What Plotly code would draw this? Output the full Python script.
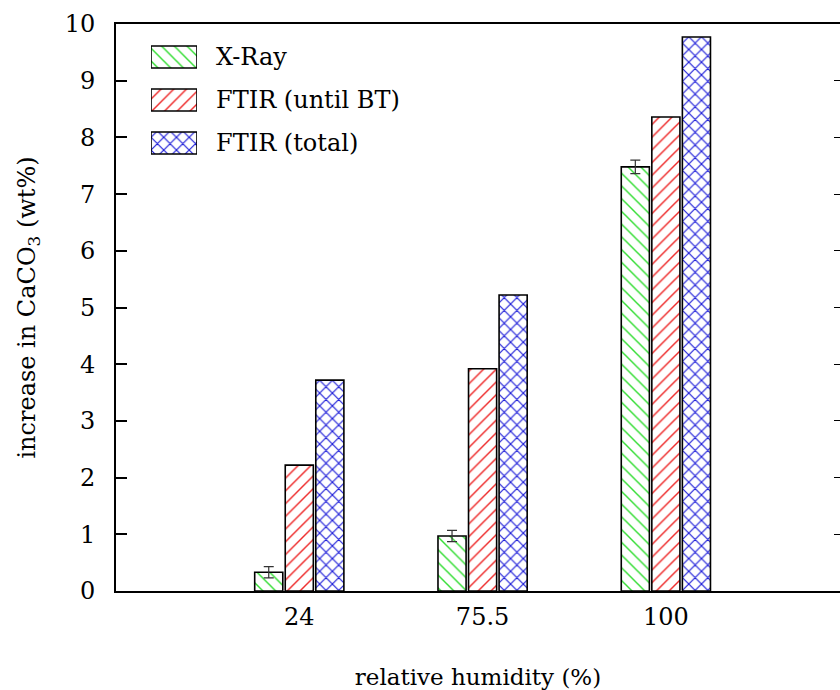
import plotly.graph_objects as go

# ---- data ----
humidity = ["24", "75.5", "100"]
series_names = ["X-Ray", "FTIR (until BT)", "FTIR (total)"]
xray = [0.33, 0.97, 7.48]
xray_err = [0.10, 0.10, 0.12]
ftir_until_bt = [2.22, 3.92, 8.36]
ftir_total = [3.72, 5.22, 9.77]
y_ticks = [0, 1, 2, 3, 4, 5, 6, 7, 8, 9, 10]

# ---- style ----
FONT = "DejaVu Serif"
FS = 24
colors = ["#33dd33", "#ee2a2a", "#1a1ad8"]
shapes = ["\\", "/", "x"]
sizes = [9, 9, 9]
solid = [0.16, 0.16, 0.24]
values = [xray, ftir_until_bt, ftir_total]

fig = go.Figure()

for i, name in enumerate(series_names):
    fig.add_trace(go.Bar(
        x=humidity, y=values[i], name=name, showlegend=False,
        marker=dict(color="white",
                    line=dict(color="black", width=1.6),
                    pattern=dict(shape=shapes[i], fgcolor=colors[i], bgcolor="white",
                                 fgopacity=1, size=sizes[i], solidity=solid[i],
                                 fillmode="overlay")),
        error_y=(dict(type="data", array=xray_err, visible=True, color="#333333",
                      thickness=1.2, width=5) if i == 0 else None),
        hoverinfo="skip",
    ))

# right-side mirrored ticks
fig.add_trace(go.Scatter(x=[None], y=[None], yaxis="y3", showlegend=False, hoverinfo="skip"))

# legend swatches in an inset axis
fig.add_trace(go.Bar(
    x=[1, 1, 1], y=series_names, orientation="h", xaxis="x2", yaxis="y2",
    width=0.51, showlegend=False, hoverinfo="skip",
    marker=dict(color="white", line=dict(color="black", width=1.6),
                pattern=dict(shape=shapes, fgcolor=colors, bgcolor="white", fgopacity=1,
                             size=sizes, solidity=solid, fillmode="overlay")),
))

L, R, T, B = 116, 0, 24, 99
W, H = 840, 690
pw = W - L - R
ph = H - T - B

def px_x(p):
    return (p - L) / pw

def px_y(p):
    return (H - B - p) / ph

fig.update_layout(
    width=W, height=H,
    margin=dict(l=L, r=R, t=T, b=B, pad=0),
    paper_bgcolor="white", plot_bgcolor="white",
    font=dict(family=FONT, size=FS, color="black"),
    barmode="group", bargap=0.5, bargroupgap=0.08,
    showlegend=False,
    xaxis=dict(type="category", categoryorder="array", categoryarray=humidity,
               range=[-1, 2.95], domain=[0, 1],
               showline=True, linecolor="black", linewidth=2, mirror=True,
               ticks="", showgrid=False, zeroline=False,
               tickfont=dict(size=FS, family=FONT),
               ticklabelstandoff=3,
               title=dict(text="relative humidity (%)", font=dict(size=23, family=FONT),
                          standoff=40),
               automargin=False),
    yaxis=dict(range=[0, 10], tickvals=y_ticks, ticks="inside", ticklen=11, tickwidth=1.5,
               tickcolor="black",
               showline=True, linecolor="black", linewidth=2, mirror=False,
               showgrid=False, zeroline=False,
               tickfont=dict(size=FS, family=FONT), ticklabelstandoff=14,
               title=dict(text="increase in CaCO<sub>3</sub> (wt%)",
                          font=dict(size=FS, family=FONT), standoff=22),
               automargin=False),
    yaxis3=dict(overlaying="y", side="right", anchor="x", range=[0, 10], tickvals=y_ticks,
                ticks="inside", ticklen=6, tickwidth=1.2, tickcolor="black",
                showticklabels=False, showline=False, showgrid=False, zeroline=False),
    xaxis2=dict(domain=[px_x(151), px_x(197)], anchor="y2", range=[0, 1],
                visible=False, fixedrange=True),
    yaxis2=dict(domain=[px_y(164.5), px_y(35.5)], anchor="x2", type="category",
                categoryorder="array", categoryarray=series_names,
                range=[2.5, -0.5], side="right", showline=False, ticks="",
                showgrid=False, zeroline=False,
                tickfont=dict(size=FS, family=FONT), ticklabelstandoff=18),
)

fig.write_html("out.html")
